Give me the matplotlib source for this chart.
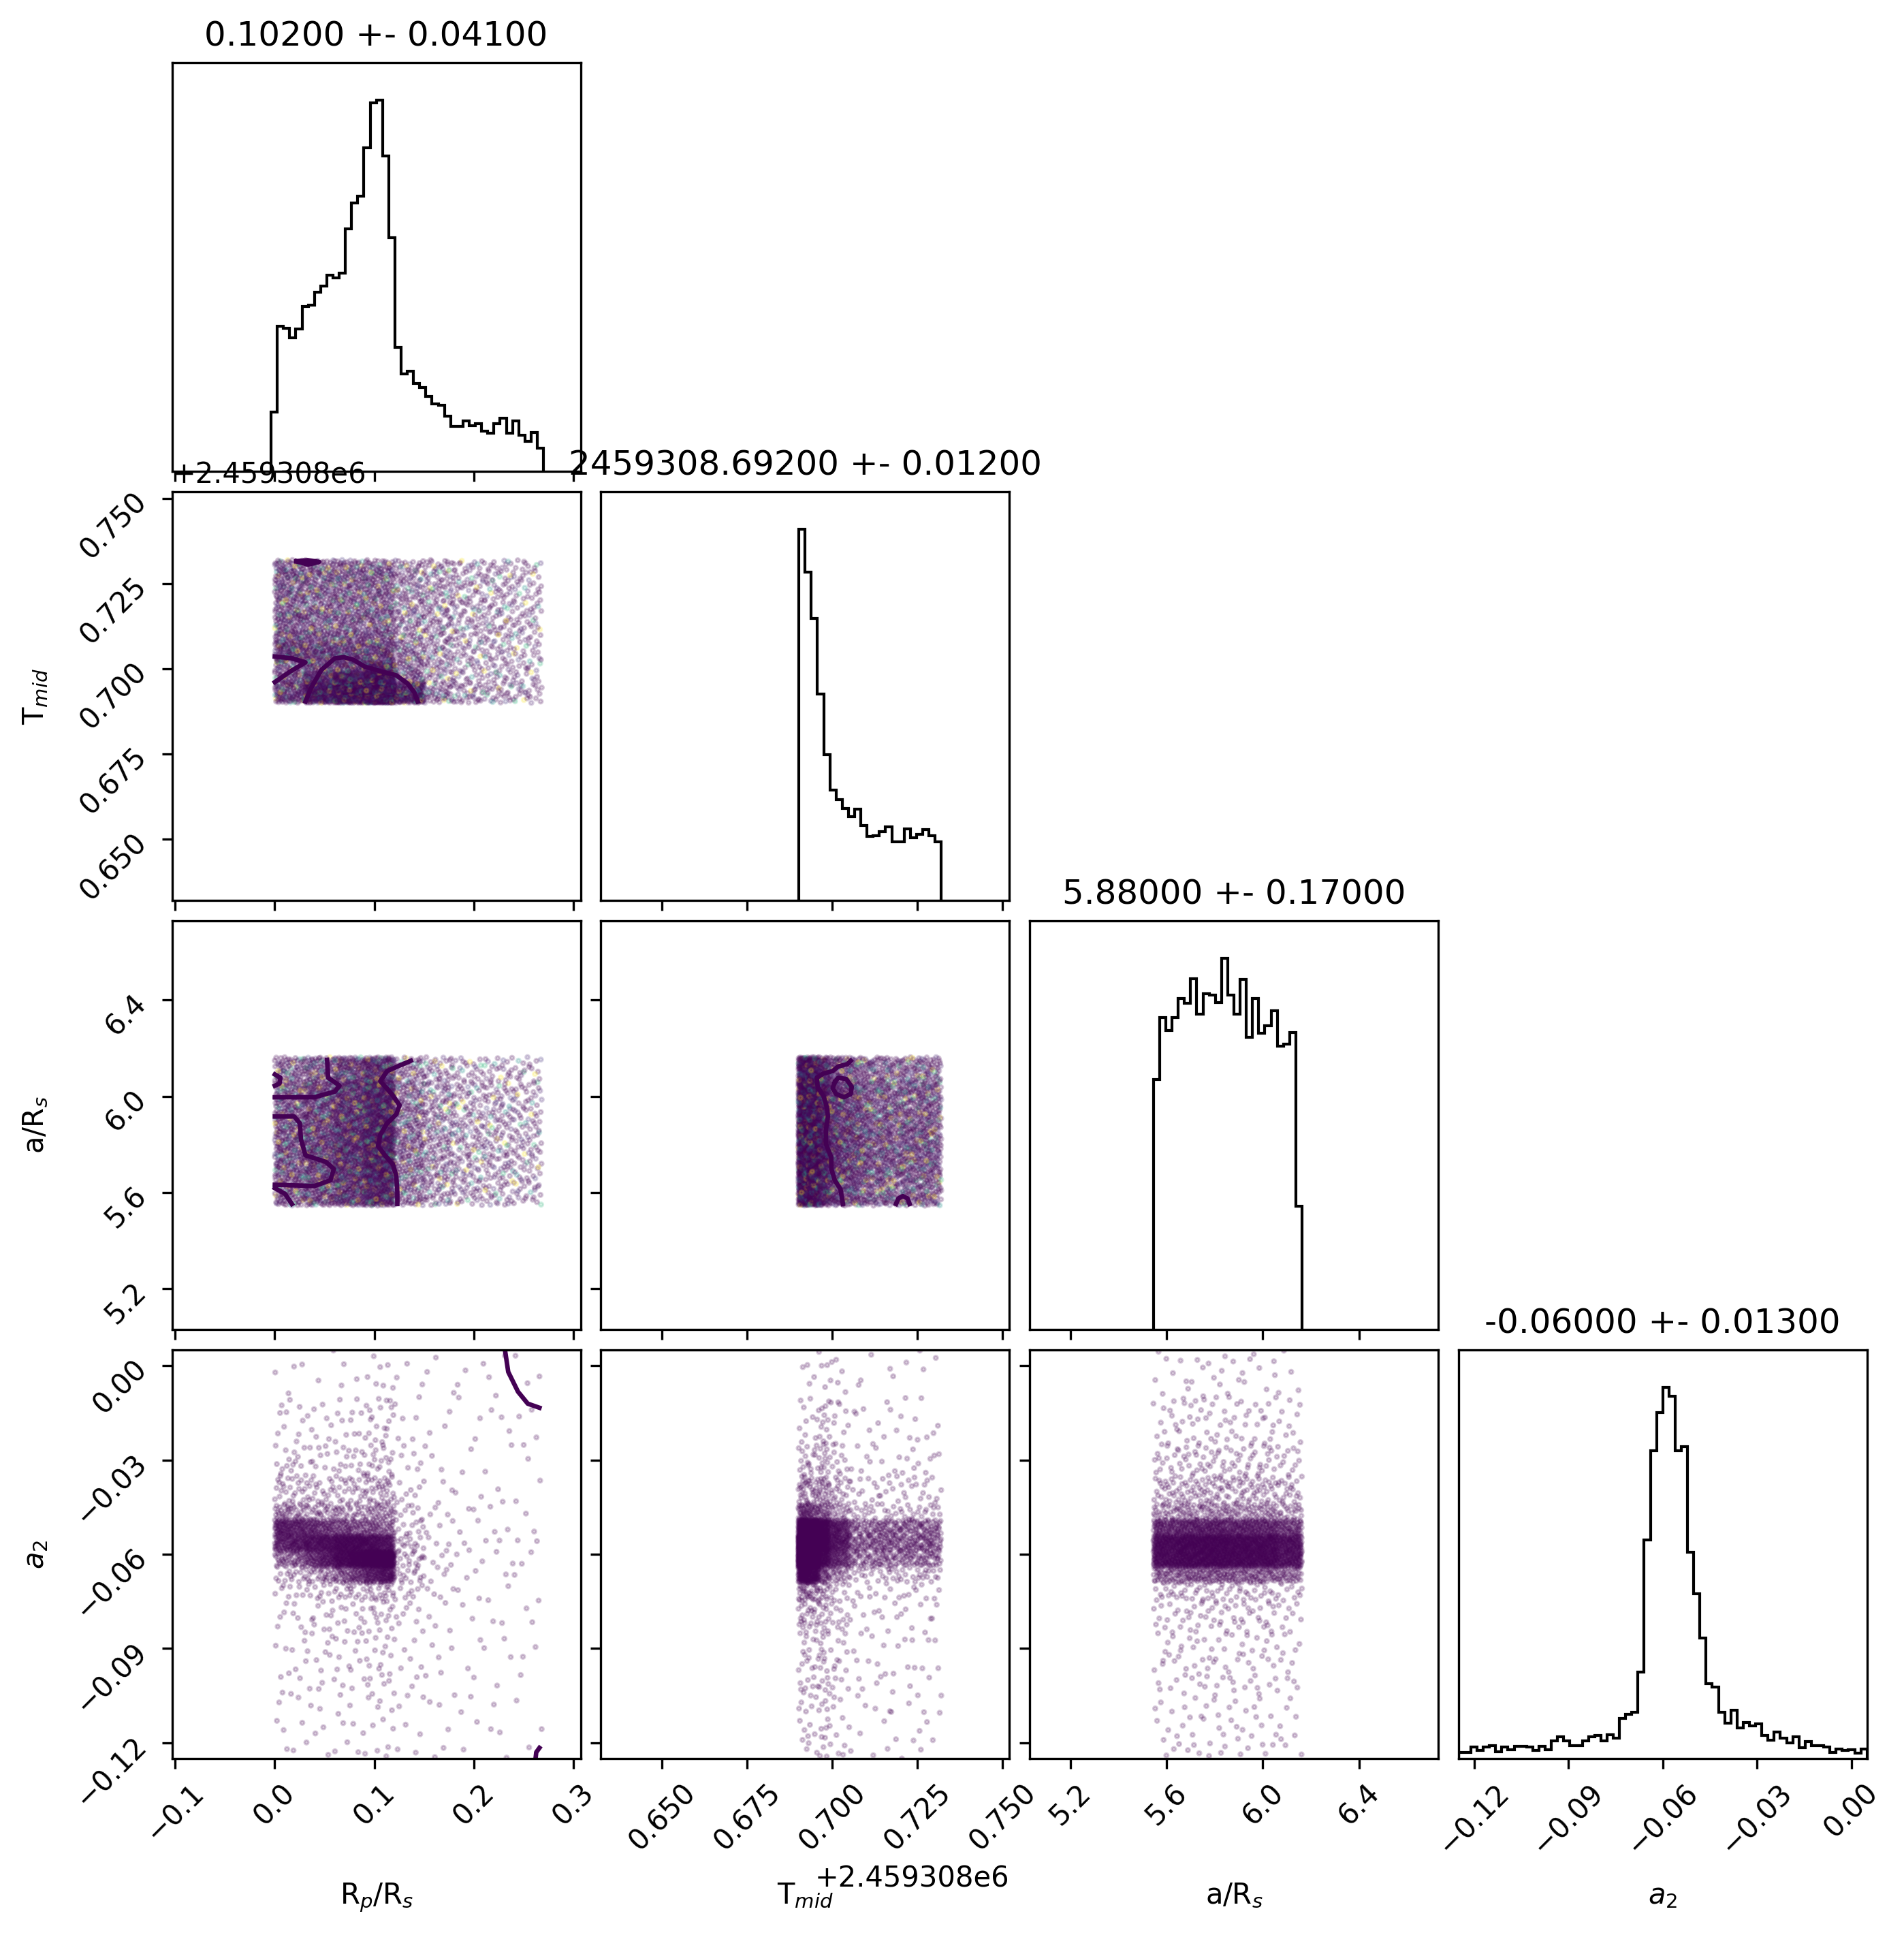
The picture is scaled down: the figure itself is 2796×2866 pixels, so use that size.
import numpy as np
import matplotlib
matplotlib.use("Agg")
import matplotlib.pyplot as plt
from matplotlib.ticker import NullFormatter

# ---------------- DATA ----------------
labels = [r"R$_p$/R$_s$", r"T$_{mid}$", r"a/R$_s$", r"$a_2$"]
best = [0.102, 2459308.692, 5.88, -0.06]
err = [0.041, 0.012, 0.17, 0.013]

ticks = [
    [-0.1, 0.0, 0.1, 0.2, 0.3],
    [2459308.650, 2459308.675, 2459308.700, 2459308.725, 2459308.750],
    [5.2, 5.6, 6.0, 6.4],
    [-0.12, -0.09, -0.06, -0.03, 0.00],
]

# 1d histograms: first bin edge, bin width, counts (arbitrary units)
rp_hist_lo, rp_hist_w = -0.00361, 0.0062121
rp_hist = [171, 418, 411, 384, 409, 475, 478, 516, 534, 565, 556, 571, 698, 773,
           791, 931, 1061, 1069, 908, 673, 356, 281, 289, 253, 241, 216, 194, 191,
           158, 129, 129, 146, 131, 138, 116, 109, 138, 153, 109, 146, 103, 86, 111, 66]
tmid_hist_lo, tmid_hist_w = 2459308.69018, 0.0018182
tmid_hist = [1187, 1048, 900, 659, 466, 352, 322, 294, 267, 291, 240, 204, 207, 219,
             235, 188, 188, 228, 201, 211, 227, 206, 187]
ars_hist_lo, ars_hist_w = 5.5452, 0.025758
ars_hist = [756, 945, 905, 945, 1003, 987, 1063, 954, 1017, 1013, 991, 1125, 1013, 954,
            1060, 884, 1003, 898, 920, 966, 858, 865, 900, 373]
a2_hist_lo, a2_hist_w = -0.125, 0.0019697
a2_hist = [19, 19, 36, 26, 36, 41, 21, 36, 29, 39, 39, 36, 26, 39, 29, 57, 69, 57, 41, 41,
           57, 69, 74, 56, 76, 66, 129, 142, 149, 277, 699, 984, 1106, 1187, 1157, 984,
           997, 659, 526, 386, 239, 229, 147, 114, 154, 99, 116, 104, 111, 74, 59, 84,
           66, 49, 69, 34, 54, 41, 41, 36, 19, 31, 26, 29, 17, 31]

# cells used to count the samples of each pair panel
rp_cells = [0.0, 0.03, 0.06, 0.09, 0.12, 0.15, 0.18, 0.21, 0.24, 0.268]
rp_cells_fine = [0.0, 0.015, 0.03, 0.045, 0.06, 0.075, 0.09, 0.105, 0.12,
                 0.15, 0.18, 0.21, 0.24, 0.268]
tmid_cells = [2459308.690, 2459308.693, 2459308.696, 2459308.699, 2459308.702,
              2459308.705, 2459308.708, 2459308.711, 2459308.714, 2459308.717,
              2459308.720, 2459308.723, 2459308.726, 2459308.729, 2459308.732]
ars_cells = [5.545, 5.648, 5.751, 5.854, 5.957, 6.060, 6.163]
a2_cells = [-0.125, -0.105, -0.085, -0.075, -0.069, -0.064, -0.059, -0.054,
            -0.049, -0.044, -0.035, -0.025, -0.010, 0.005]

# sample counts per cell: one list per x cell, y cells from bottom to top
n_rp_tmid = [
    [61, 54, 47, 38, 64, 58, 46, 38, 45, 35, 40, 38, 43, 37],
    [128, 122, 81, 49, 58, 53, 43, 35, 40, 32, 37, 35, 40, 34],
    [230, 203, 122, 63, 58, 53, 43, 35, 40, 34, 37, 35, 40, 34],
    [378, 311, 176, 95, 58, 53, 43, 35, 40, 34, 38, 35, 40, 32],
    [108, 81, 36, 30, 30, 27, 24, 20, 23, 20, 22, 21, 21, 19],
    [27, 22, 18, 18, 18, 18, 18, 18, 18, 18, 18, 18, 16, 18],
    [19, 15, 12, 12, 12, 14, 12, 14, 12, 14, 12, 14, 12, 12],
    [16, 14, 12, 12, 12, 12, 12, 14, 12, 12, 12, 12, 12, 12],
    [12, 11, 9, 9, 9, 9, 9, 11, 9, 9, 9, 9, 9, 9],
]
n_rp_ars = [
    [92, 103, 107, 100, 97, 77],
    [115, 130, 134, 126, 122, 97],
    [153, 171, 178, 167, 162, 130],
    [207, 234, 242, 227, 220, 174],
    [65, 73, 76, 72, 69, 55],
    [41, 46, 47, 45, 43, 36],
    [30, 34, 34, 32, 31, 24],
    [28, 31, 32, 31, 30, 24],
    [22, 24, 26, 24, 23, 19],
]
n_tmid_ars = [
    [155, 176, 181, 170, 165, 131],
    [132, 149, 154, 146, 140, 112],
    [81, 92, 95, 89, 86, 69],
    [51, 58, 59, 57, 54, 43],
    [43, 49, 51, 47, 46, 36],
    [41, 46, 47, 45, 43, 34],
    [34, 39, 41, 38, 36, 28],
    [30, 34, 35, 32, 32, 26],
    [32, 36, 38, 36, 35, 27],
    [28, 32, 32, 31, 30, 24],
    [31, 35, 36, 34, 32, 26],
    [30, 34, 35, 32, 32, 26],
    [32, 36, 38, 35, 34, 27],
    [28, 32, 32, 31, 30, 24],
]
# R_p/R_s uses the finer cells here (anti-correlated band)
n_rp_a2 = [
    [4, 5, 4, 4, 7, 22, 55, 60, 20, 13, 7, 5, 2],
    [3, 5, 4, 4, 8, 28, 62, 55, 16, 12, 7, 5, 2],
    [3, 6, 5, 5, 12, 45, 75, 48, 14, 12, 6, 4, 1],
    [3, 7, 6, 6, 18, 62, 80, 40, 13, 11, 5, 4, 1],
    [4, 7, 5, 8, 28, 95, 95, 38, 13, 12, 7, 5, 2],
    [4, 7, 6, 9, 40, 120, 95, 32, 12, 13, 7, 6, 1],
    [5, 9, 7, 11, 60, 150, 88, 30, 17, 17, 9, 9, 3],
    [6, 10, 8, 12, 75, 155, 70, 25, 18, 18, 10, 10, 4],
    [6, 9, 8, 9, 14, 16, 14, 11, 8, 8, 6, 6, 3],
    [5, 5, 4, 4, 4, 4, 4, 3, 3, 3, 3, 3, 3],
    [4, 4, 2, 2, 2, 2, 2, 2, 2, 2, 2, 3, 3],
    [4, 4, 2, 2, 1, 2, 2, 2, 1, 2, 2, 3, 3],
    [3, 3, 2, 1, 1, 2, 2, 1, 1, 2, 2, 3, 3],
]
n_tmid_a2 = [
    [8, 13, 13, 20, 94, 300, 300, 140, 33, 20, 10, 6, 2],
    [6, 11, 11, 16, 77, 250, 250, 115, 27, 16, 8, 5, 2],
    [12, 15, 12, 12, 24, 70, 95, 85, 21, 21, 12, 11, 4],
    [6, 8, 6, 6, 13, 38, 50, 45, 11, 11, 6, 6, 4],
    [5, 7, 5, 5, 10, 32, 42, 38, 9, 9, 5, 4, 2],
    [2, 3, 2, 2, 5, 14, 19, 17, 4, 4, 2, 2, 1],
    [2, 3, 2, 2, 5, 13, 18, 15, 4, 4, 2, 2, 1],
    [2, 3, 2, 2, 4, 14, 19, 17, 4, 4, 2, 2, 1],
    [3, 3, 2, 2, 5, 16, 21, 18, 4, 4, 2, 2, 1],
    [2, 3, 2, 2, 5, 14, 18, 17, 4, 3, 2, 2, 1],
    [2, 3, 2, 2, 5, 14, 19, 17, 5, 4, 2, 3, 1],
    [2, 3, 2, 2, 5, 14, 19, 17, 4, 4, 3, 2, 1],
    [3, 3, 2, 2, 5, 16, 21, 18, 4, 4, 2, 2, 1],
    [2, 3, 2, 2, 5, 14, 18, 17, 4, 4, 2, 2, 1],
]
n_ars_a2 = [
    [9, 13, 10, 11, 42, 140, 142, 80, 25, 23, 13, 11, 5],
    [10, 14, 11, 12, 48, 158, 160, 90, 28, 26, 15, 13, 6],
    [10, 15, 11, 13, 49, 164, 167, 94, 29, 27, 15, 13, 6],
    [10, 14, 11, 12, 46, 155, 157, 88, 27, 25, 14, 12, 6],
    [9, 14, 11, 11, 45, 151, 153, 85, 27, 25, 14, 12, 5],
    [8, 11, 8, 9, 38, 121, 121, 67, 21, 20, 11, 9, 4],
]

# contour lines
cont_rp_tmid = [
    ([0.0218, 0.0332, 0.0446, 0.0332, 0.0218],
     [2459308.7316, 2459308.7319, 2459308.7314, 2459308.7306, 2459308.7316]),
    ([0.0002, 0.0173, 0.0309, 0.0150, 0.0002],
     [2459308.7036, 2459308.7031, 2459308.7019, 2459308.6991, 2459308.6961]),
    ([0.0309, 0.0366, 0.0469, 0.0605, 0.0696, 0.0787, 0.0901, 0.1083, 0.1220,
      0.1333, 0.1401, 0.1436],
     [2459308.6904, 2459308.6944, 2459308.6997, 2459308.7031, 2459308.7034,
      2459308.7027, 2459308.7007, 2459308.6991, 2459308.6981, 2459308.6957,
      2459308.6931, 2459308.6904]),
]
cont_rp_ars = [
    ([0.0002, 0.0059, 0.0048, 0.0002], [6.091, 6.077, 6.053, 6.044]),
    ([0.0526, 0.0537, 0.0605, 0.0651, 0.0605, 0.0400, 0.0002],
     [6.152, 6.077, 6.058, 6.044, 6.020, 5.996, 5.996]),
    ([0.0002, 0.0196, 0.0253, 0.0264, 0.0309, 0.0514, 0.0594, 0.0560, 0.0400, 0.0002],
     [5.916, 5.916, 5.888, 5.821, 5.755, 5.727, 5.698, 5.651, 5.627, 5.632]),
    ([0.0002, 0.0105, 0.0173], [5.618, 5.594, 5.552]),
    ([0.1367, 0.1288, 0.1129, 0.1060, 0.1174, 0.1254, 0.1220, 0.1129, 0.1060,
      0.1038, 0.1106, 0.1186, 0.1220, 0.1231, 0.1231],
     [6.148, 6.134, 6.105, 6.063, 6.010, 5.963, 5.925, 5.888, 5.840, 5.793,
      5.755, 5.717, 5.670, 5.604, 5.552]),
]
cont_tmid_ars = [
    ([2459308.7054, 2459308.7044, 2459308.7017, 2459308.7001, 2459308.6974,
      2459308.6954, 2459308.6957, 2459308.6974, 2459308.6984, 2459308.6987,
      2459308.6981, 2459308.6981, 2459308.6997, 2459308.6997, 2459308.7007,
      2459308.7024, 2459308.7031],
     [6.148, 6.134, 6.124, 6.105, 6.095, 6.077, 6.039, 6.001, 5.954, 5.916,
      5.859, 5.802, 5.746, 5.698, 5.651, 5.613, 5.552]),
    ([2459308.7007, 2459308.7017, 2459308.7041, 2459308.7057, 2459308.7054,
      2459308.7034, 2459308.7011, 2459308.7001, 2459308.7007],
     [6.058, 6.077, 6.072, 6.039, 6.010, 5.996, 6.010, 6.034, 6.058]),
    ([2459308.7187, 2459308.7194, 2459308.7207, 2459308.7221, 2459308.7227],
     [5.552, 5.575, 5.585, 5.575, 5.552]),
]
cont_rp_a2 = [
    ([0.2311, 0.2344, 0.2442, 0.2540, 0.2657], [0.0050, -0.0020, -0.0083, -0.0121, -0.0134]),
    ([0.2618, 0.2625, 0.2657], [-0.1250, -0.1230, -0.1216]),
]

# ---------------- helpers ----------------
# prime length so the tints do not line up with the point layout
shade_cycle = [0.0, 0.0, 0.1, 0.0, 0.0, 0.0, 0.05, 0.0, 0.5, 0.0, 0.0, 0.15,
               0.0, 0.0, 0.0, 1.0, 0.0, 0.0, 0.08, 0.0, 0.0, 0.65, 0.0]
dark = plt.cm.viridis(0.0)


def halton(idx, base):
    idx = np.array(idx, dtype=np.int64)
    out = np.zeros(len(idx))
    f = 1.0
    while np.any(idx > 0):
        f /= base
        out += f * (idx % base)
        idx //= base
    return out


def spread(counts, xcells, ycells):
    # put each cell's counted samples inside its cell (leaped Halton layout, no randomness)
    xs, ys = [], []
    k = 1
    for i, col in enumerate(counts):
        for j, n in enumerate(col):
            idx = np.arange(k, k + n) * 409
            u = halton(idx, 2)
            v = halton(idx, 3)
            xs.append(xcells[i] + u * (xcells[i + 1] - xcells[i]))
            ys.append(ycells[j] + v * (ycells[j + 1] - ycells[j]))
            k += n
    return np.concatenate(xs), np.concatenate(ys)


hists = [(rp_hist_lo, rp_hist_w, rp_hist), (tmid_hist_lo, tmid_hist_w, tmid_hist),
         (ars_hist_lo, ars_hist_w, ars_hist), (a2_hist_lo, a2_hist_w, a2_hist)]
cells = [rp_cells, tmid_cells, ars_cells, a2_cells]
pairs = {
    (1, 0): (n_rp_tmid, rp_cells, cont_rp_tmid),
    (2, 0): (n_rp_ars, rp_cells, cont_rp_ars),
    (2, 1): (n_tmid_ars, tmid_cells, cont_tmid_ars),
    (3, 0): (n_rp_a2, rp_cells_fine, cont_rp_a2),
    (3, 1): (n_tmid_a2, tmid_cells, []),
    (3, 2): (n_ars_a2, ars_cells, []),
}
lims = [(b - 5 * e, b + 5 * e) for b, e in zip(best, err)]

# ---------------- PLOTTING ----------------
W, H = 2796, 2866
fig = plt.figure(figsize=(W / 300, H / 300), dpi=300)
lefts = [252.6, 882.3, 1512.0, 2141.7]
tops = [92, 722, 1352, 1982]
size = 600

for i in range(4):
    for j in range(i + 1):
        ax = fig.add_axes([lefts[j] / W, 1 - (tops[i] + size) / H, size / W, size / H])
        if i == j:
            lo, w, h = hists[i]
            edges = lo + w * np.arange(len(h) + 1)
            ax.stairs(h, edges, color="k", lw=1.0)
            ax.set_ylim(0, 1.1 * max(h))
            ax.set_yticks([])
            ax.set_title("{:.5f} +- {:.5f}".format(best[i], err[i]), fontsize=12)
        else:
            counts, xcells, conts = pairs[(i, j)]
            x, y = spread(counts, xcells, cells[i])
            if i == 3:
                col = np.tile(dark, (len(x), 1))
            else:
                shade = np.array(shade_cycle)[np.arange(len(x)) % len(shade_cycle)]
                col = plt.cm.viridis(shade)
            ax.scatter(x, y, c=col, s=2.1, alpha=0.2, linewidths=0.72, edgecolors="face")
            for cx, cy in conts:
                ax.plot(cx, cy, color=dark, lw=1.6)
            ax.set_yticks(ticks[i])
            ax.set_ylim(lims[i])
            if j == 0:
                ax.tick_params(axis="y", labelrotation=45)
                ax.set_ylabel(labels[i])
                ax.yaxis.set_label_coords(-0.3, 0.5)
            else:
                ax.yaxis.set_major_formatter(NullFormatter())
        ax.set_xticks(ticks[j])
        ax.set_xlim(lims[j])
        if i == 3:
            ax.tick_params(axis="x", labelrotation=45)
            ax.set_xlabel(labels[j])
            ax.xaxis.set_label_coords(0.5, -0.3)
        else:
            ax.xaxis.set_major_formatter(NullFormatter())

fig.savefig("out.png", dpi=300)
